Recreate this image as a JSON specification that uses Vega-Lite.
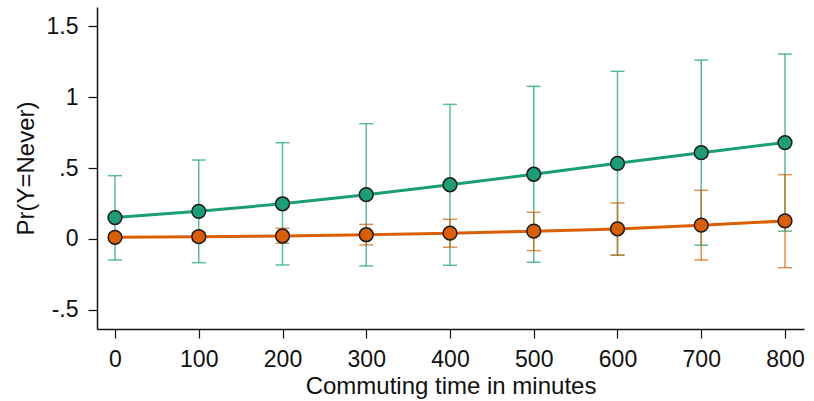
{
  "$schema": "https://vega.github.io/schema/vega-lite/v6.json",
  "width": 707,
  "height": 322,
  "autosize": {"type": "none"},
  "padding": {"left": 97, "top": 7, "right": 10, "bottom": 72},
  "background": "white",
  "config": {
    "view": {"stroke": null},
    "font": "Liberation Sans",
    "axis": {
      "grid": false,
      "domainColor": "#111",
      "domainWidth": 1.5,
      "tickColor": "#111",
      "tickWidth": 1.2,
      "tickSize": 9,
      "labelFont": "Liberation Sans",
      "labelFontSize": 23,
      "labelColor": "#111",
      "titleFont": "Liberation Sans",
      "titleFontSize": 24,
      "titleFontWeight": "normal",
      "titleColor": "#111"
    }
  },
  "data": {
    "values": [
      {"series": "A", "x": 0, "y": 0.151, "lo": -0.148, "hi": 0.446},
      {"series": "A", "x": 100, "y": 0.195, "lo": -0.167, "hi": 0.556},
      {"series": "A", "x": 200, "y": 0.248, "lo": -0.183, "hi": 0.678},
      {"series": "A", "x": 300, "y": 0.312, "lo": -0.19, "hi": 0.812},
      {"series": "A", "x": 400, "y": 0.382, "lo": -0.185, "hi": 0.948},
      {"series": "A", "x": 500, "y": 0.456, "lo": -0.164, "hi": 1.075},
      {"series": "A", "x": 600, "y": 0.533, "lo": -0.115, "hi": 1.181},
      {"series": "A", "x": 700, "y": 0.608, "lo": -0.044, "hi": 1.26},
      {"series": "A", "x": 800, "y": 0.679, "lo": 0.055, "hi": 1.303},
      {"series": "B", "x": 0, "y": 0.012, "lo": -0.008, "hi": 0.032},
      {"series": "B", "x": 100, "y": 0.016, "lo": -0.015, "hi": 0.047},
      {"series": "B", "x": 200, "y": 0.021, "lo": -0.03, "hi": 0.075},
      {"series": "B", "x": 300, "y": 0.03, "lo": -0.042, "hi": 0.103},
      {"series": "B", "x": 400, "y": 0.041, "lo": -0.058, "hi": 0.139},
      {"series": "B", "x": 500, "y": 0.055, "lo": -0.082, "hi": 0.188},
      {"series": "B", "x": 600, "y": 0.071, "lo": -0.113, "hi": 0.254},
      {"series": "B", "x": 700, "y": 0.097, "lo": -0.148, "hi": 0.343},
      {"series": "B", "x": 800, "y": 0.127, "lo": -0.202, "hi": 0.453}
    ]
  },
  "encoding": {
    "x": {
      "field": "x",
      "type": "quantitative",
      "scale": {"domain": [-21.5, 822.7], "nice": false, "zero": false},
      "axis": {
        "values": [0, 100, 200, 300, 400, 500, 600, 700, 800],
        "title": "Commuting time in minutes",
        "labelPadding": 10,
        "titlePadding": 3
      }
    },
    "color": {
      "field": "series",
      "type": "nominal",
      "scale": {"domain": ["A", "B"], "range": ["#1b9e77", "#d95f02"]},
      "legend": null
    }
  },
  "layer": [
    {
      "mark": {"type": "errorbar", "ticks": {"size": 14, "thickness": 1.5}, "thickness": 1.5, "opacity": 0.7},
      "encoding": {
        "y": {
          "field": "lo",
          "type": "quantitative",
          "scale": {"domain": [-0.634, 1.634], "nice": false, "zero": false},
          "axis": {
            "values": [-0.5, 0, 0.5, 1, 1.5],
            "labelExpr": "datum.value == 0 ? '0' : replace(toString(datum.value), '0.', '.')",
            "title": "Pr(Y=Never)",
            "labelPadding": 10,
            "titlePadding": 8
          }
        },
        "y2": {"field": "hi"}
      }
    },
    {
      "mark": {"type": "line", "strokeWidth": 3},
      "encoding": {"y": {"field": "y", "type": "quantitative"}}
    },
    {
      "mark": {"type": "point", "filled": true, "size": 190, "stroke": "#1a1a1a", "strokeWidth": 1.5, "opacity": 1, "shape": "circle"},
      "encoding": {"y": {"field": "y", "type": "quantitative"}}
    }
  ]
}
